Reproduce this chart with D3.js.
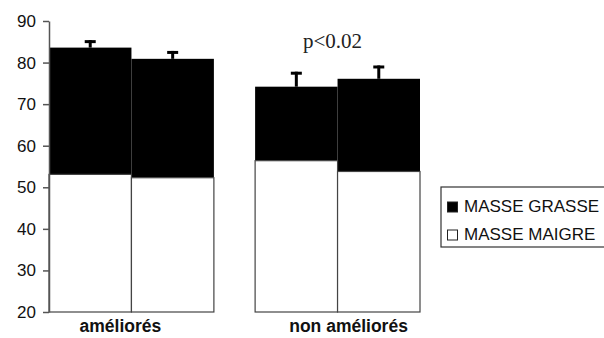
<!DOCTYPE html>
<html>
<head>
<meta charset="utf-8">
<script src="https://cdn.jsdelivr.net/npm/d3@7"></script>
<style>
  body { margin: 0; background: #fff; }
  svg { display: block; }
</style>
</head>
<body>
<svg id="chart"></svg>
<script>
// values
const groups = ["améliorés", "non améliorés"];
const subgroups = ["a", "b"];
const masseMaigre = [[53.1, 52.3], [56.4, 53.8]];
const masseTotale = [[83.6, 80.9], [74.2, 76.1]];
const erreurHaute = [[85.4, 82.8], [77.8, 79.3]];
const yTicks = [20, 30, 40, 50, 60, 70, 80, 90];
const legendLabels = ["MASSE GRASSE", "MASSE MAIGRE"];

const width = 604, height = 338;
const margin = { top: 21, left: 49, bottom: 26 };

const svg = d3.select('#chart')
    .attr('width', width)
    .attr('height', height);

const y = d3.scaleLinear()
    .domain([20, 90])
    .range([height - margin.bottom, margin.top]);

const x0 = d3.scaleBand()
    .domain(groups)
    .range([margin.left, 420])
    .paddingInner(0.2)
    .paddingOuter(0);

const x1 = d3.scaleBand()
    .domain(subgroups)
    .range([0, x0.bandwidth()]);

// flatten to one row per bar
const bars = [];
groups.forEach((g, i) => {
    subgroups.forEach((s, j) => {
        bars.push({ group: g, sub: s, maigre: masseMaigre[i][j], total: masseTotale[i][j], err: erreurHaute[i][j] });
    });
});

const barG = svg.append('g');

// masse grasse (black, upper part)
barG.selectAll('.grasse')
    .data(bars)
    .join('rect')
    .attr('class', 'grasse')
    .attr('x', d => x0(d.group) + x1(d.sub))
    .attr('width', x1.bandwidth())
    .attr('y', d => y(d.total))
    .attr('height', d => y(d.maigre) - y(d.total))
    .attr('fill', '#000');

// masse maigre (white, lower part)
barG.selectAll('.maigre')
    .data(bars)
    .join('rect')
    .attr('class', 'maigre')
    .attr('x', d => x0(d.group) + x1(d.sub))
    .attr('width', x1.bandwidth())
    .attr('y', d => y(d.maigre))
    .attr('height', d => y(20) - y(d.maigre))
    .attr('fill', '#fff')
    .attr('stroke', '#444')
    .attr('stroke-width', 1.2);

// error bars
const errG = barG.selectAll('.err')
    .data(bars)
    .join('g')
    .attr('class', 'err')
    .attr('transform', d => `translate(${x0(d.group) + x1(d.sub) + x1.bandwidth() / 2},0)`);

errG.append('line')
    .attr('y1', d => y(d.total))
    .attr('y2', d => y(d.err))
    .attr('stroke', '#000')
    .attr('stroke-width', 3);

errG.append('line')
    .attr('x1', -5.5)
    .attr('x2', 5.5)
    .attr('y1', d => y(d.err) + 1.5)
    .attr('y2', d => y(d.err) + 1.5)
    .attr('stroke', '#000')
    .attr('stroke-width', 3);

// y axis
const yAxis = svg.append('g')
    .attr('transform', `translate(${margin.left},0)`)
    .call(d3.axisLeft(y).tickValues(yTicks).tickSize(6).tickPadding(7).tickSizeOuter(0));

yAxis.select('.domain').attr('stroke', '#555').attr('stroke-width', 1.5);
yAxis.selectAll('.tick line').attr('stroke', '#555').attr('stroke-width', 1.5);
yAxis.selectAll('.tick text')
    .attr('font-family', 'Liberation Sans, Arial, sans-serif')
    .attr('font-size', 17)
    .attr('fill', '#111');

// group labels (slightly off-centre in the original)
const labelShift = [-11, 11];
svg.selectAll('.glabel')
    .data(groups)
    .join('text')
    .attr('class', 'glabel')
    .attr('x', (d, i) => x0(d) + x0.bandwidth() / 2 + labelShift[i])
    .attr('y', 332)
    .attr('text-anchor', 'middle')
    .attr('font-family', 'Liberation Sans, Arial, sans-serif')
    .attr('font-weight', 'bold')
    .attr('font-size', 17.5)
    .attr('fill', '#111')
    .text(d => d);

// significance annotation
svg.append('text')
    .attr('x', x0(groups[1]) + x0.bandwidth() / 2 - 5)
    .attr('y', 48)
    .attr('text-anchor', 'middle')
    .attr('font-family', 'Liberation Serif, Times New Roman, serif')
    .attr('font-size', 21)
    .attr('fill', '#222')
    .text('p<0.02');

// legend
const legend = svg.append('g').attr('transform', 'translate(441,187)');
legend.append('rect')
    .attr('width', 175)
    .attr('height', 60)
    .attr('fill', '#fff')
    .attr('stroke', '#333')
    .attr('stroke-width', 1.2);

const items = legend.selectAll('.item')
    .data(legendLabels)
    .join('g')
    .attr('class', 'item')
    .attr('transform', (d, i) => `translate(0,${25 + i * 28})`);

items.append('rect')
    .attr('x', 6.5)
    .attr('y', -10)
    .attr('width', 10)
    .attr('height', 10)
    .attr('fill', (d, i) => i === 0 ? '#000' : '#fff')
    .attr('stroke', '#222')
    .attr('stroke-width', 1);

items.append('text')
    .attr('x', 23)
    .attr('y', 0)
    .attr('font-family', 'Liberation Sans, Arial, sans-serif')
    .attr('font-size', 17)
    .attr('fill', '#111')
    .text(d => d);
</script>
</body>
</html>
